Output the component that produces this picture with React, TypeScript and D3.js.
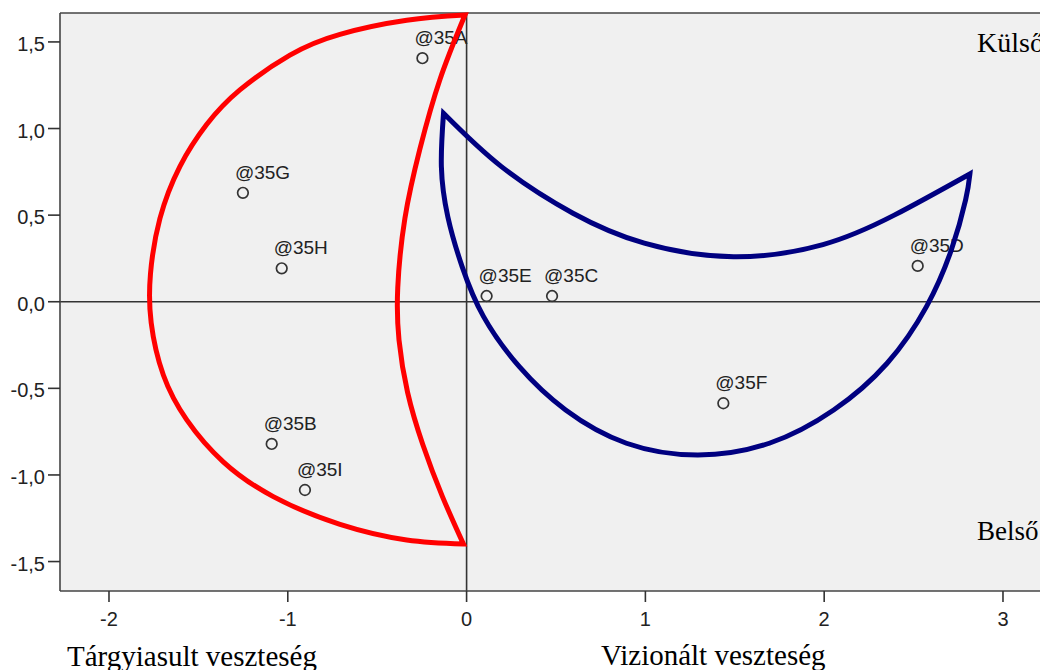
import React from 'react';
import * as d3 from 'd3';

// Scatter points (data units)
const pointLabels = ['@35A', '@35G', '@35H', '@35B', '@35I', '@35E', '@35C', '@35D', '@35F'];
const pointX = [-0.247, -1.251, -1.034, -1.09, -0.904, 0.112, 0.478, 2.523, 1.436];
const pointY = [1.406, 0.629, 0.193, -0.821, -1.087, 0.033, 0.033, 0.207, -0.586];

const xTicks = [-2, -1, 0, 1, 2, 3];
const yTicks = [1.5, 1, 0.5, 0, -0.5, -1, -1.5];

// Red crescent (data units), both arcs top tip -> bottom tip
const redOuter: [number, number][] = [
  [-0.009, 1.655], [-0.335, 1.625], [-0.708, 1.544], [-0.988, 1.424], [-1.268, 1.223],
  [-1.454, 1.023], [-1.603, 0.782], [-1.715, 0.481], [-1.768, 0.161], [-1.764, -0.121],
  [-1.696, -0.423], [-1.565, -0.682], [-1.361, -0.924], [-1.081, -1.125], [-0.708, -1.285],
  [-0.335, -1.375], [-0.018, -1.398],
];
const redInner: [number, number][] = [
  [-0.009, 1.655], [-0.149, 1.283], [-0.261, 0.882], [-0.345, 0.481], [-0.385, 0.08],
  [-0.378, -0.221], [-0.33, -0.523], [-0.245, -0.824], [-0.135, -1.125], [-0.018, -1.398],
];

// Blue crescent (data units), both arcs left tip -> right tip
const blueOuter: [number, number][] = [
  [-0.129, 1.088], [-0.141, 0.78], [-0.105, 0.491], [-0.025, 0.203], [0.095, -0.086],
  [0.295, -0.375], [0.554, -0.625], [0.894, -0.817], [1.294, -0.885], [1.693, -0.817],
  [2.053, -0.625], [2.352, -0.355], [2.572, -0.028], [2.711, 0.299], [2.791, 0.588],
  [2.815, 0.738],
];
const blueInner: [number, number][] = [
  [-0.129, 1.088], [0.195, 0.78], [0.595, 0.511], [0.994, 0.338], [1.493, 0.26],
  [1.993, 0.33], [2.392, 0.5], [2.815, 0.738],
];

const W = 1040;
const H = 670;
const left = 60, right = 1045, top = 13, bottom = 591;

const x = d3.scaleLinear().domain([-2.274, 3.235]).range([left, right]);
const y = d3.scaleLinear().domain([-1.67, 1.667]).range([bottom, top]);

const fmt = (v: number) => (Number.isInteger(v) ? String(v) : v.toFixed(1)).replace('.', ',');
const fmtY = (v: number) => v.toFixed(1).replace('.', ',');

const line = d3
  .line<[number, number]>()
  .x((d) => x(d[0]))
  .y((d) => y(d[1]))
  .curve(d3.curveNatural);

function crescent(a: [number, number][], b: [number, number][]) {
  const p1 = line(a) as string;
  const p2 = line(b.slice().reverse()) as string;
  return p1 + p2.replace(/^M[^A-Za-z]*/, '') + 'Z';
}

const SANS = '"Liberation Sans", Arial, sans-serif';
const SERIF = '"Liberation Serif", "Times New Roman", serif';

export default function App() {
  return (
    <div style={{ position: 'absolute', left: 0, top: 0 }}>
      <svg width={W} height={H} style={{ display: 'block', background: '#fff' }}>
        <rect x={left} y={top} width={right - left} height={bottom - top} fill="#f0f0f0" />
        {/* zero lines */}
        <line x1={left} x2={right} y1={y(0)} y2={y(0)} stroke="#333" strokeWidth={1.6} />
        <line x1={x(0)} x2={x(0)} y1={top} y2={bottom} stroke="#333" strokeWidth={1.6} />
        {/* frame */}
        <line x1={left} x2={right} y1={top} y2={top} stroke="#444" strokeWidth={1.6} />
        <line x1={left} x2={right} y1={bottom} y2={bottom} stroke="#444" strokeWidth={1.6} />
        <line x1={left} x2={left} y1={top} y2={bottom} stroke="#444" strokeWidth={1.6} />

        {/* y ticks */}
        {yTicks.map((t) => (
          <g key={'y' + t}>
            <line x1={left - 12} x2={left} y1={y(t)} y2={y(t)} stroke="#333" strokeWidth={1.6} />
            <text x={left - 15} y={y(t) + 9} textAnchor="end" fontFamily={SANS} fontSize={20} fill="#222">
              {fmtY(t)}
            </text>
          </g>
        ))}
        {/* x ticks */}
        {xTicks.map((t) => (
          <g key={'x' + t}>
            <line x1={x(t)} x2={x(t)} y1={bottom} y2={bottom + 11} stroke="#333" strokeWidth={1.6} />
            <text x={x(t)} y={bottom + 35} textAnchor="middle" fontFamily={SANS} fontSize={20} fill="#222">
              {fmt(t)}
            </text>
          </g>
        ))}

        {/* points */}
        {pointLabels.map((lab, i) => (
          <g key={lab}>
            <circle cx={x(pointX[i])} cy={y(pointY[i])} r={5.3} fill="none" stroke="#333" strokeWidth={1.7} />
            <text
              x={x(pointX[i]) - 8}
              y={y(pointY[i]) - 14}
              fontFamily={SANS}
              fontSize={19}
              fill="#222"
            >
              {lab}
            </text>
          </g>
        ))}

        {/* crescents */}
        <path d={crescent(redOuter, redInner)} fill="none" stroke="#ff0000" strokeWidth={5} strokeLinejoin="miter" strokeMiterlimit={20} />
        <path d={crescent(blueOuter, blueInner)} fill="none" stroke="#000080" strokeWidth={5} strokeLinejoin="miter" strokeMiterlimit={20} />

        {/* quadrant notes */}
        <text x={977} y={52} fontFamily={SERIF} fontSize={28} fill="#000">Külső</text>
        <text x={977} y={540} fontFamily={SERIF} fontSize={27} fill="#000">Belső</text>

        {/* axis titles */}
        <text x={67} y={666} fontFamily={SERIF} fontSize={29} fill="#000">Tárgyiasult veszteség</text>
        <text x={601} y={665} fontFamily={SERIF} fontSize={29} fill="#000">Vizionált veszteség</text>
      </svg>
    </div>
  );
}
